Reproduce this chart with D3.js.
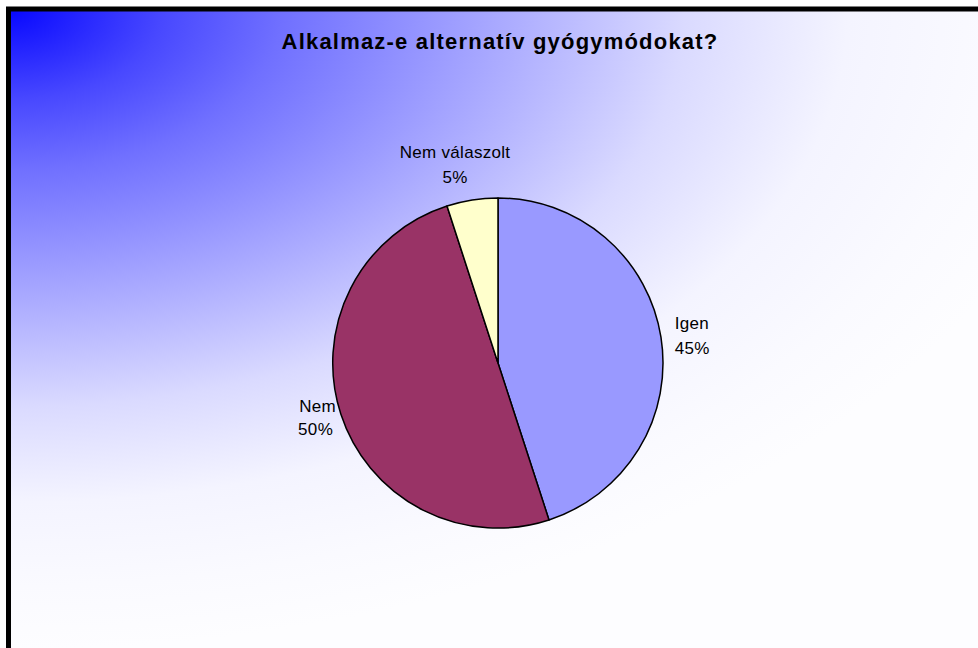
<!DOCTYPE html>
<html>
<head>
<meta charset="utf-8">
<script src="https://cdn.jsdelivr.net/npm/d3@7"></script>
<style>
  body { margin: 0; background: #fff; }
  text { font-family: "Liberation Sans", Arial, sans-serif; fill: #000; }
  .title { font-size: 22px; font-weight: bold; letter-spacing: 1.2px; }
  .label { font-size: 17px; letter-spacing: 0.3px; }
</style>
</head>
<body>
<div id="chart"></div>
<script>
var categories = ["Igen", "Nem", "Nem válaszolt"];
var values = [45, 50, 5];
var colors = ["#9999ff", "#993366", "#ffffcc"];

var width = 978, height = 648;
var cx = 498, cy = 363, radius = 165;

var svg = d3.select("#chart").append("svg")
  .attr("width", width)
  .attr("height", height);

// background fades from blue in the top-left corner (stretched sideways)
var grad = svg.append("defs").append("radialGradient")
  .attr("id", "bg")
  .attr("gradientUnits", "userSpaceOnUse")
  .attr("cx", 10).attr("cy", 10)
  .attr("fx", 10).attr("fy", 10)
  .attr("r", 640)
  .attr("gradientTransform", "translate(10,10) scale(1.7,1) translate(-10,-10)");
[[0, "#0808ff"], [0.14, "#4848ff"], [0.25, "#7070ff"], [0.43, "#a4a4ff"],
 [0.62, "#dadaff"], [0.77, "#f4f4ff"], [0.9, "#fafaff"], [1, "#fdfdff"]].forEach(function(s) {
  grad.append("stop").attr("offset", s[0]).attr("stop-color", s[1]);
});

svg.append("rect")
  .attr("x", 8.5).attr("y", 9)
  .attr("width", 975).attr("height", 650)
  .attr("fill", "url(#bg)")
  .attr("stroke", "#000")
  .attr("stroke-width", 5);

svg.append("text")
  .attr("class", "title")
  .attr("x", 500).attr("y", 49)
  .attr("text-anchor", "middle")
  .text("Alkalmaz-e alternatív gyógymódokat?");

var data = categories.map(function(c, i) {
  return { name: c, value: values[i], color: colors[i] };
});

var pie = d3.pie()
  .sort(null)
  .value(function(d) { return d.value; });

var arc = d3.arc()
  .innerRadius(0)
  .outerRadius(radius);

var total = d3.sum(values);

var g = svg.append("g")
  .attr("transform", "translate(" + cx + "," + cy + ")");

var arcs = pie(data);

g.selectAll("path")
  .data(arcs)
  .enter()
  .append("path")
  .attr("d", arc)
  .attr("fill", function(d) { return d.data.color; })
  .attr("stroke", "#000")
  .attr("stroke-width", 1.5)
  .attr("stroke-linejoin", "round");

// labels sit just outside each slice
var labelArc = d3.arc()
  .innerRadius(radius + 20)
  .outerRadius(radius + 20);

function side(d) {
  var s = Math.sin((d.startAngle + d.endAngle) / 2);
  if (Math.abs(s) < 0.5) return "top";
  return s > 0 ? "right" : "left";
}

var labels = g.selectAll(".lbl")
  .data(arcs)
  .enter()
  .append("text")
  .attr("class", "label")
  .attr("text-anchor", function(d) {
    return { top: "middle", right: "start", left: "end" }[side(d)];
  })
  .attr("transform", function(d) {
    var p = labelArc.centroid(d);
    var off = { top: [-14, -22], right: [-6, -5], left: [14, -8] }[side(d)];
    return "translate(" + (p[0] + off[0]) + "," + (p[1] + off[1]) + ")";
  });

labels.append("tspan")
  .attr("x", 0).attr("dy", 0)
  .text(function(d) { return d.data.name; });

labels.append("tspan")
  .attr("x", function(d) { return side(d) === "left" ? -3 : 0; })
  .attr("dy", function(d) { return side(d) === "left" ? 23 : 25; })
  .text(function(d) { return Math.round(d.data.value / total * 100) + "%"; });
</script>
</body>
</html>
